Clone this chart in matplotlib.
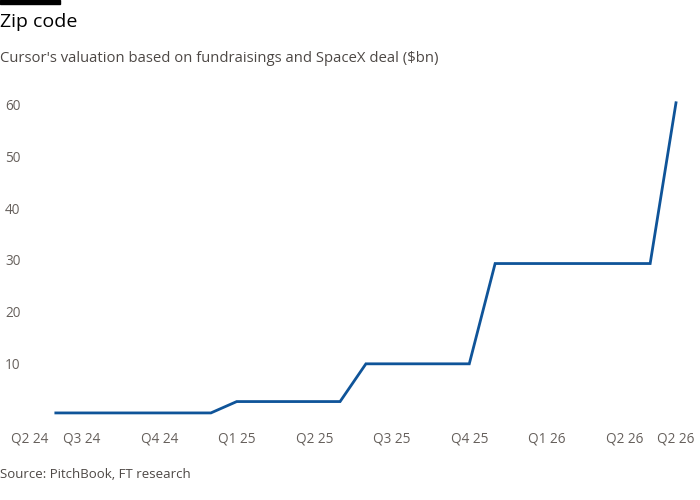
import matplotlib.pyplot as plt

# monthly valuations, Jun 2024 -> Jun 2026 ($bn)
month_idx = list(range(25))
valuation = [0.4] * 7 + [2.6] * 5 + [9.9] * 5 + [29.3] * 7 + [60.4]

tick_pos = [-1, 1, 4, 7, 10, 13, 16, 19, 22, 24]
tick_labels = ["Q2 24", "Q3 24", "Q4 24", "Q1 25", "Q2 25",
               "Q3 25", "Q4 25", "Q1 26", "Q2 26", "Q2 26"]
y_ticks = [10, 20, 30, 40, 50, 60]

plt.rcParams["font.family"] = ["Open Sans", "DejaVu Sans"]

fig = plt.figure(figsize=(7, 5), dpi=100)
fig.patch.set_facecolor("white")

# axes placed in pixels: x -1..24 spans 30..676, y 0..62 spans 415..94.5
ax = fig.add_axes([30 / 700, 85 / 500, 646 / 700, 320.5 / 500])
ax.plot(month_idx, valuation, color="#0f5499", linewidth=2.0,
        solid_joinstyle="miter", clip_on=False)

ax.set_xlim(-1, 24)
ax.set_ylim(0, 62)
for s in ax.spines.values():
    s.set_visible(False)

ax.set_xticks(tick_pos)
ax.set_xticklabels(tick_labels)
ax.set_yticks(y_ticks)
ax.set_yticklabels([str(v) for v in y_ticks])
# pads are in points (0.72 pt per pixel at 100 dpi)
ax.tick_params(axis="x", length=0, pad=12, labelsize=9.8, labelcolor="#66605c")
ax.tick_params(axis="y", length=0, pad=18, labelsize=9.8, labelcolor="#66605c")
for lbl in ax.get_yticklabels():
    lbl.set_horizontalalignment("left")

# header bar, title, subtitle, source
fig.add_artist(plt.Rectangle((0, 496 / 500), 60 / 700, 4 / 500,
                             transform=fig.transFigure, color="black"))
fig.text(0.0, 1 - 22 / 500, "Zip code", fontsize=14, color="#000000",
         va="center", ha="left")
fig.text(0.0, 1 - 58 / 500,
         "Cursor's valuation based on fundraisings and SpaceX deal ($bn)",
         fontsize=10.7, color="#4d4845", va="center", ha="left")
fig.text(0.0, 1 - 474 / 500, "Source: PitchBook, FT research",
         fontsize=9.5, color="#4d4845", va="center", ha="left")

fig.savefig("out.png", dpi=100, facecolor="white")
